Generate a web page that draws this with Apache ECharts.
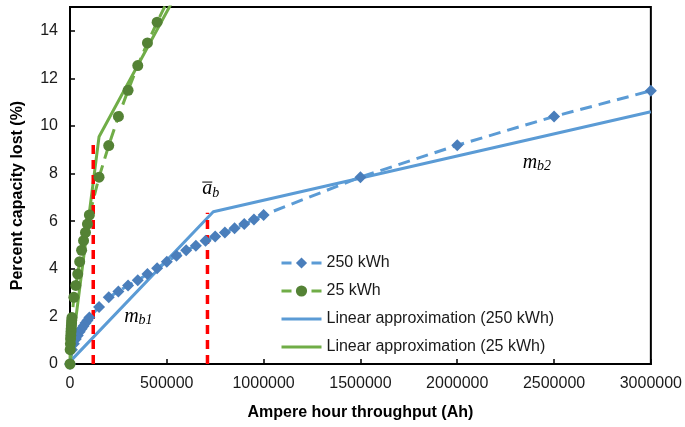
<!DOCTYPE html>
<html>
<head>
<meta charset="utf-8">
<script src="https://cdn.jsdelivr.net/npm/echarts@6/dist/echarts.min.js"></script>
<style>
  html, body { margin: 0; padding: 0; background: #fff; }
  #chart { width: 685px; height: 427px; }
</style>
</head>
<body>
<div id="chart"></div>
<script>
// 250 kWh pack: throughput (Ah) and capacity lost (%)
var ah250 = [0, 10000, 20000, 30000, 40000, 50000, 60000, 70000, 80000, 90000, 100000,
  150000, 200000, 250000, 300000, 350000, 400000, 450000, 500000, 550000, 600000,
  650000, 700000, 750000, 800000, 850000, 900000, 950000, 1000000,
  1500000, 2000000, 2500000, 3000000];
var loss250 = [0, 0.6, 0.85, 1.05, 1.2, 1.35, 1.48, 1.6, 1.72, 1.83, 1.95,
  2.4, 2.8, 3.05, 3.3, 3.52, 3.78, 4.02, 4.3, 4.55, 4.78,
  4.97, 5.18, 5.36, 5.53, 5.7, 5.88, 6.07, 6.26,
  7.85, 9.19, 10.4, 11.48];

// 25 kWh pack
var ah25 = [0, 1000, 2000, 3000, 4000, 5000, 6000, 7000, 8000, 9000,
  10000, 20000, 30000, 40000, 50000, 60000, 70000, 80000, 90000, 100000,
  150000, 200000, 250000, 300000, 350000, 400000, 450000, 500000];
var loss25 = [0, 0.6, 0.85, 1.05, 1.2, 1.35, 1.48, 1.6, 1.72, 1.83,
  1.95, 2.8, 3.3, 3.78, 4.3, 4.78, 5.18, 5.53, 5.88, 6.26,
  7.85, 9.18, 10.4, 11.5, 12.54, 13.49, 14.36, 15.2];

// piecewise linear approximations
var linAh250 = [0, 740000, 3000000];
var linLoss250 = [0.1, 6.4, 10.6];
var linAh25 = [0, 150000, 540000];
var linLoss25 = [0, 9.55, 15.4];

// red breakpoints
var breakAh = [120000, 710000];
var breakLoss = [9.3, 6.35];

var legendNames = ['250 kWh', '25 kWh', 'Linear approximation (250 kWh)', 'Linear approximation (25 kWh)'];

function pairs(xs, ys) {
  return xs.map(function (x, i) { return [x, ys[i]]; });
}

var BLUE = '#5b9bd5', BLUE_DK = '#4a7ebb', GREEN = '#70ad47', GREEN_DK = '#548235';
var font = 'Liberation Sans, Arial, sans-serif';
var barIcon = 'path://M0,0H40V3H0Z';
var legendDash = { type: [10, 20], width: 3 };

var chart = echarts.init(document.getElementById('chart'));

var series = [
  {
    name: legendNames[0], type: 'line', data: pairs(ah250, loss250),
    symbol: 'diamond', symbolSize: 12,
    itemStyle: { color: BLUE_DK },
    lineStyle: { color: BLUE, width: 3, type: [12, 7] }
  },
  {
    name: legendNames[1], type: 'line', data: pairs(ah25, loss25),
    symbol: 'circle', symbolSize: 11,
    itemStyle: { color: GREEN_DK },
    lineStyle: { color: GREEN, width: 3, type: [12, 7] }
  },
  {
    name: legendNames[2], type: 'line', data: pairs(linAh250, linLoss250),
    symbol: 'none', itemStyle: { color: BLUE },
    lineStyle: { color: BLUE, width: 3 }
  },
  {
    name: legendNames[3], type: 'line', data: pairs(linAh25, linLoss25),
    symbol: 'none', itemStyle: { color: GREEN },
    lineStyle: { color: GREEN, width: 3 }
  }
];
breakAh.forEach(function (x, i) {
  series.push({
    name: 'break' + i, type: 'line', data: [[x, 0], [x, breakLoss[i]]],
    symbol: 'none', silent: true,
    lineStyle: { color: '#ff0000', width: 3.5, type: [9, 6] }
  });
});

chart.setOption({
  animation: false,
  backgroundColor: '#fff',
  grid: { left: 70, right: 31, top: 7, bottom: 63, show: true, borderColor: '#000', borderWidth: 2 },
  legend: {
    data: [
      { name: legendNames[0], lineStyle: legendDash },
      { name: legendNames[1], lineStyle: legendDash },
      { name: legendNames[2], icon: barIcon },
      { name: legendNames[3], icon: barIcon }
    ],
    orient: 'vertical', left: 280, top: 255, padding: 0,
    itemWidth: 40, itemHeight: 14, itemGap: 12,
    textStyle: { fontFamily: font, fontSize: 16, color: '#1a1a1a' }
  },
  xAxis: {
    type: 'value', min: 0, max: 3000000, interval: 500000,
    name: 'Ampere hour throughput (Ah)', nameLocation: 'middle', nameGap: 41,
    nameTextStyle: { fontFamily: font, fontSize: 16, fontWeight: 'bold', color: '#000' },
    axisLine: { show: true, lineStyle: { color: '#000', width: 2 } },
    axisTick: { show: true, inside: true, length: 5, lineStyle: { color: '#000', width: 1.5 } },
    axisLabel: {
      fontFamily: font, fontSize: 16, color: '#1a1a1a', margin: 12,
      formatter: function (v) { return String(v); }
    },
    splitLine: { show: false }
  },
  yAxis: {
    type: 'value', min: 0, max: 15, interval: 2,
    name: 'Percent capacity lost (%)', nameLocation: 'middle', nameGap: 44,
    nameTextStyle: { fontFamily: font, fontSize: 16, fontWeight: 'bold', color: '#000', padding: [0, 20, 0, 0] },
    axisLine: { show: true, lineStyle: { color: '#000', width: 2 } },
    axisTick: { show: true, inside: true, length: 5, lineStyle: { color: '#000', width: 1.5 } },
    axisLabel: {
      fontFamily: font, fontSize: 16, color: '#1a1a1a', margin: 12,
      formatter: function (v) { return v > 14 ? '' : String(v); }
    },
    splitLine: { show: false }
  },
  series: series
});

// math-style labels: base letter, subscript, optional bar
var noteBase = ['a', 'm', 'm'];
var noteSub = ['b', 'b1', 'b2'];
var noteAt = [[709000, 7.35], [318000, 2.0], [2376000, 8.47]];
var mathFont = 'italic 20px "Liberation Serif", "DejaVu Serif", serif';
var subFont = 'italic 14px "Liberation Serif", "DejaVu Serif", serif';
var g = [];
noteAt.forEach(function (p, i) {
  var c = chart.convertToPixel({ gridIndex: 0 }, p);
  var half = noteBase[i] === 'm' ? 7 : 5;
  g.push({ type: 'text', x: c[0], y: c[1], z: 100,
    style: { text: noteBase[i], font: mathFont, fill: '#000', align: 'center', verticalAlign: 'middle' } });
  g.push({ type: 'text', x: c[0] + half, y: c[1] + 4, z: 100,
    style: { text: noteSub[i], font: subFont, fill: '#000', align: 'left', verticalAlign: 'middle' } });
  if (i === 0) {
    g.push({ type: 'line', z: 100, shape: { x1: c[0] - 5, y1: c[1] - 7, x2: c[0] + 5, y2: c[1] - 7 },
      style: { stroke: '#000', lineWidth: 1 } });
  }
});
chart.setOption({ graphic: g });
</script>
</body>
</html>
